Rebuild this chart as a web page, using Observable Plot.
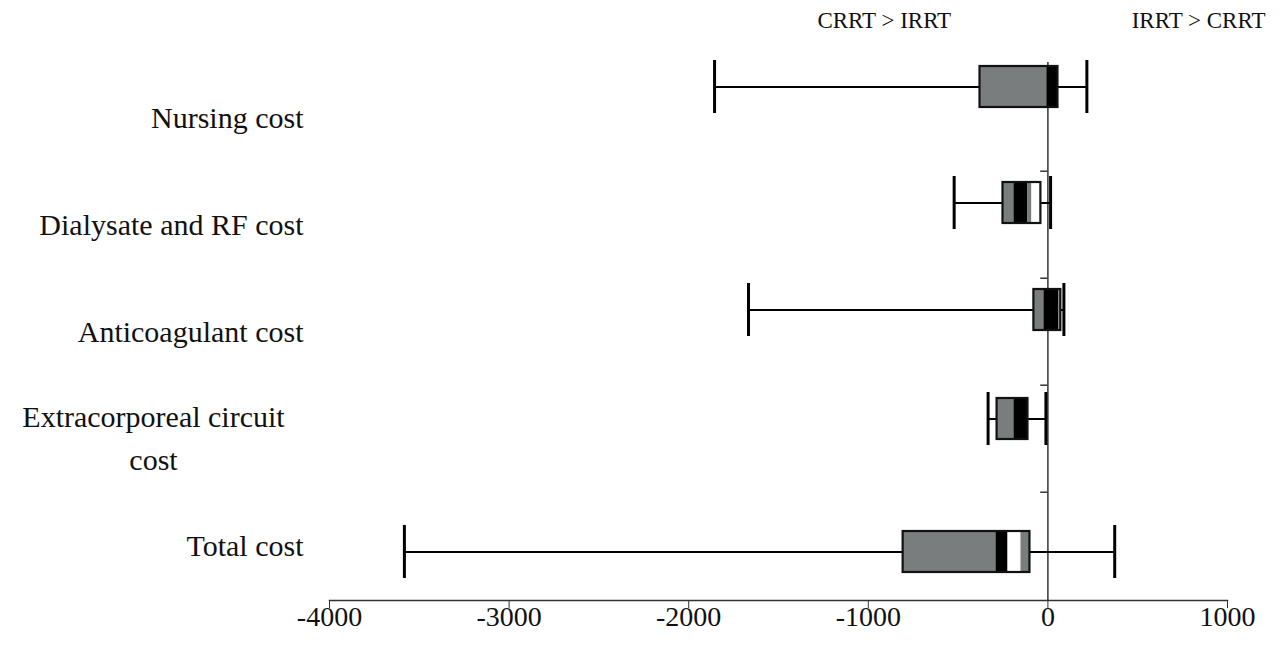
<!DOCTYPE html>
<html>
<head>
<meta charset="utf-8">
<script src="https://cdn.jsdelivr.net/npm/d3@7"></script>
<script src="https://cdn.jsdelivr.net/npm/@observablehq/plot@0.6"></script>
<style>
  html, body { margin: 0; padding: 0; background: #fff; }
</style>
</head>
<body>
<div id="chart"></div>
<script>
// ---- data ----
const categories = ["Nursing cost", "Dialysate and RF cost", "Anticoagulant cost", "Extracorporeal circuit cost", "Total cost"];
const whiskerLow  = [-1856, -522, -1667, -333, -3583];
const whiskerHigh = [217, 15, 89, -11, 372];
const boxLow      = [-378, -250, -78, -283, -806];
const boxHigh     = [56, -39, 72, -111, -100];
// segments inside each box: [category index, from, to, kind]
const segments = [
  [0, -378, -6, "gray"], [0, -6, 56, "black"],
  [1, -250, -189, "gray"], [1, -189, -111, "black"], [1, -111, -89, "gray"], [1, -89, -39, "white"],
  [2, -78, -22, "gray"], [2, -22, 61, "black"], [2, 61, 72, "gray"],
  [3, -283, -189, "gray"], [3, -189, -111, "black"],
  [4, -806, -289, "gray"], [4, -289, -222, "black"], [4, -222, -150, "white"], [4, -150, -100, "gray"]
];
const xTicks = [-4000, -3000, -2000, -1000, 0, 1000];
const annotations = [
  {x: -911, text: "CRRT > IRRT"},
  {x: 839, text: "IRRT > CRRT"}
];

// ---- layout ----
const W = 1280, H = 659;
const mTop = 62, mBottom = 59, mLeft = 329, mRight = 53;
const band = (H - mTop - mBottom) / categories.length;
const rowShift = [-31, -22, -22, -20, 6]; // vertical placement of each box within its row
const colors = {gray: "#7a7d7d", black: "#000000", white: "#ffffff"};
const serif = "Liberation Serif, Times New Roman, serif";

const marks = [];
// vertical zero axis + band boundary ticks
marks.push(Plot.ruleX([0], {stroke: "#333", strokeWidth: 1.5}));
marks.push(Plot.ruleY(categories.slice(1), {y: d => d, x1: -40, x2: 0, dy: -band / 2, stroke: "#333", strokeWidth: 1.5}));
// bottom axis line
marks.push(Plot.frame({anchor: "bottom", stroke: "#333", strokeWidth: 1.5}));

categories.forEach((cat, i) => {
  const dy = rowShift[i];
  const whiskers = [[whiskerLow[i], boxLow[i]], [boxHigh[i], whiskerHigh[i]]];
  marks.push(Plot.ruleY(whiskers, {y: () => cat, x1: w => w[0], x2: w => w[1], stroke: "#000", strokeWidth: 2, dy}));
  marks.push(Plot.tickX([whiskerLow[i], whiskerHigh[i]], {x: d => d, y: () => cat, stroke: "#000", strokeWidth: 3, insetTop: 27, insetBottom: 27, dy}));
  const segs = segments.filter(s => s[0] === i);
  marks.push(Plot.barX(segs, {x1: s => s[1], x2: s => s[2], y: () => cat, fill: s => colors[s[3]], insetTop: 33, insetBottom: 33, dy}));
  marks.push(Plot.barX([cat], {x1: () => boxLow[i], x2: () => boxHigh[i], y: d => d, fill: "none", stroke: "#111", strokeWidth: 2.2, insetTop: 33, insetBottom: 33, dy}));
});

// category labels
marks.push(Plot.text(categories.filter(c => c !== "Extracorporeal circuit cost"), {
  y: d => d, text: d => d, frameAnchor: "left", textAnchor: "end", dx: -26,
  fontSize: 30, fontFamily: serif, fill: "#111", style: "letter-spacing:0.8px"
}));
marks.push(Plot.text(["Extracorporeal circuit cost"], {
  y: d => d, text: () => "Extracorporeal circuit\ncost", frameAnchor: "left", textAnchor: "middle", dx: -176, dy: -4,
  lineHeight: 1.44, fontSize: 30, fontFamily: serif, fill: "#111", style: "letter-spacing:1px"
}));
// top annotations
marks.push(Plot.text(annotations, {x: "x", text: "text", frameAnchor: "top", dy: -51, fontSize: 23, fontFamily: serif, fill: "#111"}));
// x axis
marks.push(Plot.axisX({ticks: xTicks, tickFormat: d => String(d), tickSize: 8, tickPadding: -2, stroke: "#333", fontSize: 28, fontFamily: serif, fill: "#111", label: null}));

const chart = Plot.plot({
  width: W, height: H,
  marginTop: mTop, marginBottom: mBottom, marginLeft: mLeft, marginRight: mRight,
  x: {domain: [-4000, 1000], label: null},
  y: {domain: categories, axis: null, padding: 0},
  style: {fontFamily: serif, fontSize: "26px", background: "#fff", color: "#111"},
  marks
});
document.getElementById("chart").appendChild(chart);
</script>
</body>
</html>
